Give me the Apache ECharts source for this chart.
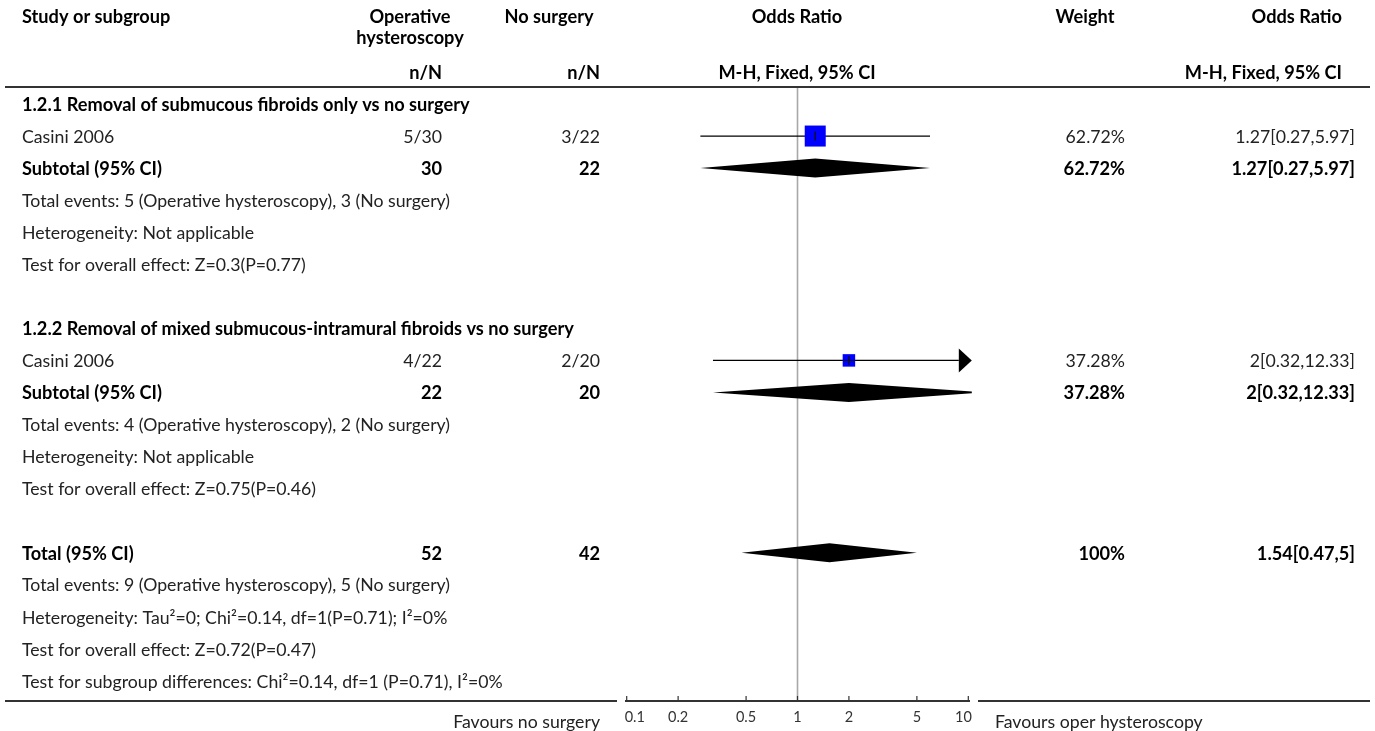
<!DOCTYPE html>
<html><head><meta charset="utf-8">
<script src="https://cdn.jsdelivr.net/npm/echarts@6/dist/echarts.min.js"></script>
<style>html,body{margin:0;padding:0;background:#fff}#c{width:1375px;height:731px}</style>
</head><body><div id="c"></div>
<script>
// ---------------- data ----------------
const tickValues = [0.1, 0.2, 0.5, 1, 2, 5, 10];
const tickLabels = ['0.1', '0.2', '0.5', '1', '2', '5', '10'];

const groupTitles = [
  '1.2.1 Removal of submucous fibroids only vs no surgery',
  '1.2.2 Removal of mixed submucous-intramural fibroids vs no surgery'
];
const groupTitleRow = [0, 7];

const studyNames = ['Casini 2006', 'Casini 2006'];
const studyRow = [1, 8];
const expEvents = [5, 4];
const expTotal = [30, 22];
const ctrlEvents = [3, 2];
const ctrlTotal = [22, 20];
const studyOR = [1.27, 2];
const studyLow = [0.27, 0.32];
const studyHigh = [5.97, 12.33];
const studyWeight = [62.72, 37.28];
const studyCI = ['1.27[0.27,5.97]', '2[0.32,12.33]'];

const subRow = [2, 9];
const subExpTotal = [30, 22];
const subCtrlTotal = [22, 20];
const subOR = [1.27, 2];
const subLow = [0.27, 0.32];
const subHigh = [5.97, 12.33];
const subWeight = ['62.72%', '37.28%'];
const subCI = ['1.27[0.27,5.97]', '2[0.32,12.33]'];

const totalRow = 14;
const totalExp = 52;
const totalCtrl = 42;
const totalOR = 1.54;
const totalLow = 0.47;
const totalHigh = 5;
const totalWeight = '100%';
const totalCI = '1.54[0.47,5]';

const noteRows = [3, 4, 5, 10, 11, 12, 15, 16, 17, 18];
const noteTexts = [
  'Total events: 5 (Operative hysteroscopy), 3 (No surgery)',
  'Heterogeneity: Not applicable',
  'Test for overall effect: Z=0.3(P=0.77)',
  'Total events: 4 (Operative hysteroscopy), 2 (No surgery)',
  'Heterogeneity: Not applicable',
  'Test for overall effect: Z=0.75(P=0.46)',
  'Total events: 9 (Operative hysteroscopy), 5 (No surgery)',
  'Heterogeneity: Tau\u00b2=0; Chi\u00b2=0.14, df=1(P=0.71); I\u00b2=0%',
  'Test for overall effect: Z=0.72(P=0.47)',
  'Test for subgroup differences: Chi\u00b2=0.14, df=1 (P=0.71), I\u00b2=0%'
];

const favLeft = 'Favours no surgery';
const favRight = 'Favours oper hysteroscopy';

// ---------------- layout ----------------
const FONT = 'Lato';
const mctx = document.createElement('canvas').getContext('2d');
mctx.font = '100px ' + FONT;
const FS = Math.round(100 * 428 / mctx.measureText(noteTexts[6]).width * 10) / 10;
mctx.font = 'bold 100px ' + FONT;
const FSB = Math.round(100 * 998 / (mctx.measureText(groupTitles[0]).width + mctx.measureText(groupTitles[1]).width) * 10) / 10;
const TICK_FS = Math.round(FS * 0.82 * 10) / 10;

const COL_STUDY = 22, COL_EXP = 442, COL_CTRL = 600, COL_W = 1125, COL_CI = 1355;
const ROW0 = 104, ROWH = 32.05, TOP = 87, AXIS_Y = 701;
const Y_MIN = (TOP - ROW0) / ROWH, Y_MAX = (AXIS_Y - ROW0) / ROWH;
const PLOT_L = 626.7, PLOT_R = 968.3;
const TEXT_DY = 1;

// table rows built from the arrays
const tableRows = [];
groupTitles.forEach((t, g) => {
  tableRows.push({ row: groupTitleRow[g], label: t, bold: true });
  tableRows.push({ row: studyRow[g], label: studyNames[g], exp: expEvents[g] + '/' + expTotal[g],
    ctrl: ctrlEvents[g] + '/' + ctrlTotal[g], w: studyWeight[g].toFixed(2) + '%', ci: studyCI[g] });
  tableRows.push({ row: subRow[g], label: 'Subtotal (95% CI)', bold: true, exp: String(subExpTotal[g]),
    ctrl: String(subCtrlTotal[g]), w: subWeight[g], ci: subCI[g] });
});
tableRows.push({ row: totalRow, label: 'Total (95% CI)', bold: true, exp: String(totalExp),
  ctrl: String(totalCtrl), w: totalWeight, ci: totalCI });
noteRows.forEach((r, k) => tableRows.push({ row: r, label: noteTexts[k] }));

function txt(x, y, s, align, bold, size, color) {
  return { type: 'text', style: { x: x, y: y, text: s, align: align, verticalAlign: 'middle',
    font: (bold ? 'bold ' : '') + (size || (bold ? FSB : FS)) + 'px ' + FONT, fill: color || (bold ? '#000' : '#222') } };
}

const chart = echarts.init(document.getElementById('c'), null, { renderer: 'canvas' });

const headerY1 = 17, headerY2 = 38, headerY3 = 73;
const graphics = [
  txt(COL_STUDY, headerY1, 'Study or subgroup', 'left', true),
  txt(410, headerY1, 'Operative', 'center', true),
  txt(410, headerY2, 'hysteroscopy', 'center', true),
  txt(549, headerY1, 'No surgery', 'center', true),
  txt(797, headerY1, 'Odds Ratio', 'center', true),
  txt(1085, headerY1, 'Weight', 'center', true),
  txt(1342, headerY1, 'Odds Ratio', 'right', true),
  txt(COL_EXP, headerY3, 'n/N', 'right', true),
  txt(COL_CTRL, headerY3, 'n/N', 'right', true),
  txt(797, headerY3, 'M-H, Fixed, 95% CI', 'center', true),
  txt(1342, headerY3, 'M-H, Fixed, 95% CI', 'right', true),
  { type: 'rect', shape: { x: 5, y: TOP - 1, width: 1365, height: 2 }, style: { fill: '#333' } },
  { type: 'rect', shape: { x: 5, y: AXIS_Y - 1, width: 612, height: 2 }, style: { fill: '#333' } },
  { type: 'rect', shape: { x: 625, y: AXIS_Y - 1, width: 345, height: 2 }, style: { fill: '#333' } },
  { type: 'rect', shape: { x: 978, y: AXIS_Y - 1, width: 392, height: 2 }, style: { fill: '#333' } },
  txt(600, 722, favLeft, 'right', false),
  txt(995, 722, favRight, 'left', false)
].map(g => Object.assign({ z: 100 }, g));

const SQ = 0.335;      // square side per weight point
const DH = 9.5;        // diamond half-height

const option = {
  animation: false,
  backgroundColor: '#fff',
  grid: { left: PLOT_L, right: 1375 - PLOT_R, top: TOP, bottom: 731 - AXIS_Y },
  xAxis: { type: 'log', logBase: 10, min: 0.1, max: 10, show: false },
  yAxis: { type: 'value', inverse: true, min: Y_MIN, max: Y_MAX, show: false },
  graphic: graphics,
  series: [
    { // null line
      type: 'custom', clip: false, z: 1, data: [[1]],
      renderItem: function (params, api) {
        const a = api.coord([api.value(0), Y_MIN]), b = api.coord([api.value(0), Y_MAX]);
        return { type: 'line', shape: { x1: a[0], y1: a[1] + 1, x2: b[0], y2: b[1] - 1 },
          style: { stroke: '#a8a8a8', lineWidth: 1.6 } };
      }
    },
    { // axis ticks + labels
      type: 'custom', clip: false, z: 3,
      data: tickValues.map((v, i) => [v, i]),
      renderItem: function (params, api) {
        const v = api.value(0), i = api.value(1);
        const p = api.coord([v, Y_MAX]);
        let align = 'center', x = p[0];
        if (i === 0) { align = 'left'; x = p[0] - 2; }
        if (i === tickValues.length - 1) { align = 'right'; x = p[0] + 3.5; }
        return { type: 'group', children: [
          { type: 'line', shape: { x1: p[0], y1: p[1], x2: p[0], y2: p[1] - 5 }, style: { stroke: '#333', lineWidth: 1.2 } },
          { type: 'text', style: { x: x, y: p[1] + 16, text: tickLabels[i], align: align, verticalAlign: 'middle',
            font: TICK_FS + 'px ' + FONT, fill: '#333' } }
        ] };
      }
    },
    { // studies
      type: 'custom', clip: false, z: 5,
      data: studyOR.map((v, i) => [v, studyRow[i], studyLow[i], studyHigh[i], studyWeight[i]]),
      renderItem: function (params, api) {
        const or = api.value(0), row = api.value(1), lo = api.value(2), hi = api.value(3), w = api.value(4);
        const c = api.coord([or, row]);
        const pl = api.coord([Math.max(lo, 0.1), row]);
        const ph = api.coord([Math.min(hi, 10), row]);
        const kids = [];
        let xr = ph[0];
        if (hi > 10) {
          const tip = ph[0] + 3.5;
          xr = tip - 13;
          kids.push({ type: 'polygon', shape: { points: [[tip - 13, c[1] - 12], [tip, c[1]], [tip - 13, c[1] + 12]] }, style: { fill: '#000' } });
        }
        kids.push({ type: 'line', shape: { x1: pl[0], y1: c[1], x2: xr, y2: c[1] }, style: { stroke: '#000', lineWidth: 1.3 } });
        const s = w * SQ;
        kids.push({ type: 'rect', shape: { x: c[0] - s / 2, y: c[1] - s / 2, width: s, height: s }, style: { fill: '#0000ff' } });
        kids.push({ type: 'line', shape: { x1: c[0], y1: c[1] - 4.5, x2: c[0], y2: c[1] + 4.5 }, style: { stroke: '#111', lineWidth: 1.3 } });
        if (s < 15) kids.push({ type: 'line', shape: { x1: c[0] - s / 2, y1: c[1], x2: c[0] + s / 2, y2: c[1] }, style: { stroke: '#111', lineWidth: 1 } });
        return { type: 'group', children: kids };
      }
    },
    { // diamonds
      type: 'custom', clip: false, z: 5,
      data: subOR.map((v, i) => [v, subRow[i], subLow[i], subHigh[i]]).concat([[totalOR, totalRow, totalLow, totalHigh]]),
      renderItem: function (params, api) {
        const or = api.value(0), row = api.value(1), lo = api.value(2), hi = api.value(3);
        const c = api.coord([or, row]);
        const pl = api.coord([lo, row]);
        const ph = api.coord([hi, row]);
        const xmax = api.coord([10, row])[0] + 3.5;
        const y = c[1];
        let pts;
        if (ph[0] > xmax) {
          const f = 1 - (xmax - c[0]) / (ph[0] - c[0]);
          pts = [[pl[0], y], [c[0], y - DH], [xmax, y - DH * f], [xmax, y + DH * f], [c[0], y + DH]];
        } else {
          pts = [[pl[0], y], [c[0], y - DH], [ph[0], y], [c[0], y + DH]];
        }
        return { type: 'polygon', shape: { points: pts }, style: { fill: '#000' } };
      }
    },
    { // table text
      type: 'custom', clip: false, z: 10,
      data: tableRows.map((r, k) => [1, r.row, k]),
      renderItem: function (params, api) {
        const r = tableRows[api.value(2)];
        const y = api.coord([1, api.value(1)])[1] + TEXT_DY;
        const kids = [txt(COL_STUDY, y, r.label, 'left', r.bold)];
        if (r.exp) kids.push(txt(COL_EXP, y, r.exp, 'right', r.bold));
        if (r.ctrl) kids.push(txt(COL_CTRL, y, r.ctrl, 'right', r.bold));
        if (r.w) kids.push(txt(COL_W, y, r.w, 'right', r.bold));
        if (r.ci) kids.push(txt(COL_CI, y, r.ci, 'right', r.bold));
        return { type: 'group', children: kids };
      }
    }
  ]
};
chart.setOption(option);
</script>
</body></html>
